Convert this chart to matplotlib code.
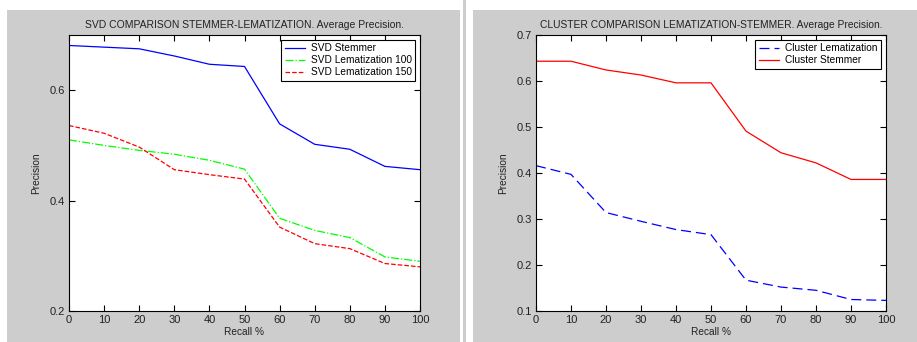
import matplotlib
matplotlib.use("Agg")
import matplotlib.pyplot as plt
from matplotlib.patches import Rectangle

plt.rcParams['font.family'] = ['Liberation Sans', 'DejaVu Sans']

recall = [0, 10, 20, 30, 40, 50, 60, 70, 80, 90, 100]

svd_stemmer = [0.681, 0.678, 0.675, 0.662, 0.647, 0.643, 0.539, 0.502, 0.493, 0.462, 0.456]
svd_lem100 = [0.510, 0.500, 0.491, 0.484, 0.473, 0.457, 0.368, 0.346, 0.333, 0.298, 0.290]
svd_lem150 = [0.536, 0.522, 0.497, 0.456, 0.447, 0.439, 0.352, 0.322, 0.313, 0.286, 0.280]

cluster_lem = [0.416, 0.397, 0.314, 0.295, 0.277, 0.266, 0.167, 0.152, 0.145, 0.125, 0.123]
cluster_stem = [0.643, 0.643, 0.624, 0.613, 0.596, 0.596, 0.491, 0.444, 0.422, 0.386, 0.386]

left_yticks = [0.2, 0.4, 0.6]
right_yticks = [0.1, 0.2, 0.3, 0.4, 0.5, 0.6, 0.7]
xticks = recall

W, H = 917, 342
fig = plt.figure(figsize=(W / 100, H / 100), dpi=100)
fig.patch.set_facecolor('white')

gray = '#cdcdcd'
def prect(x0, y0, x1, y1, color):
    fig.patches.append(Rectangle((x0 / W, 1 - y1 / H), (x1 - x0) / W, (y1 - y0) / H,
                                 transform=fig.transFigure, facecolor=color,
                                 edgecolor='none', zorder=-10))

prect(7, 10, 460, 342, gray)
prect(463, 0, 466, 342, gray)
prect(473, 10, 917, 342, gray)

def add_ax(x0, y0, x1, y1):
    ax = fig.add_axes([x0 / W, 1 - y1 / H, (x1 - x0) / W, (y1 - y0) / H])
    ax.set_zorder(5)
    return ax

fs = 8
small = 7.3

def style(ax, yticks, ylim):
    ax.set_facecolor('white')
    ax.set_xlim(0, 100)
    ax.set_ylim(*ylim)
    ax.set_xticks(xticks)
    ax.set_yticks(yticks)
    ax.set_yticklabels([f'{v:g}' for v in yticks])
    ax.tick_params(direction='in', top=True, right=True, labelsize=fs, length=4, width=0.8, pad=3,
                   labelcolor='#222222')
    for s in ax.spines.values():
        s.set_linewidth(0.8)
    ax.set_xlabel('Recall %', fontsize=small, labelpad=1, color='#222222')
    ax.set_ylabel('Precision', fontsize=small, labelpad=6, color='#222222')

def make_legend(ax):
    leg = ax.legend(loc='upper right', fontsize=small, frameon=True, fancybox=False,
                    edgecolor='black', borderpad=0.35, labelspacing=0.2, handlelength=2.0,
                    handletextpad=0.6, borderaxespad=0.45, framealpha=1)
    leg.get_frame().set_linewidth(0.8)
    return leg

ax1 = add_ax(69, 35, 420, 311)
ax1.plot(recall, svd_stemmer, color='#0000ff', lw=0.9, ls='-', label='SVD Stemmer')
ax1.plot(recall, svd_lem100, color='#00ff00', lw=0.9, ls='-.', label='SVD Lematization 100')
ax1.plot(recall, svd_lem150, color='#ff0000', lw=0.9, ls='--', label='SVD Lematization 150')
style(ax1, left_yticks, (0.2, 0.7))
ax1.set_title('SVD COMPARISON STEMMER-LEMATIZATION. Average Precision.', fontsize=7.5, pad=5,
              color='#222222')
make_legend(ax1)

ax2 = add_ax(536, 35, 886, 311)
ax2.plot(recall, cluster_lem, color='#0000ff', lw=0.9, ls=(0, (8, 4)), label='Cluster Lematization')
ax2.plot(recall, cluster_stem, color='#ff0000', lw=0.9, ls='-', label='Cluster Stemmer')
style(ax2, right_yticks, (0.1, 0.7))
ax2.set_title('CLUSTER COMPARISON LEMATIZATION-STEMMER. Average Precision.', fontsize=7.4, pad=5,
              color='#222222')
make_legend(ax2)

fig.savefig('out.png', dpi=100, facecolor='white')
